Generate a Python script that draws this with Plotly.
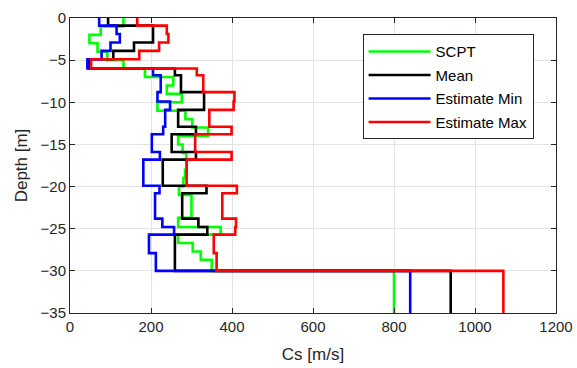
import plotly.graph_objects as go

# ---- data ----
# SCPT layer boundaries (depth, m) and shear-wave velocities (m/s)
scpt_depths = [0, 1, 2, 3, 4, 5, 6, 7, 8, 9, 10, 11, 12, 13, 14, 15, 16, 17, 18, 19,
               20, 21, 23.7, 24.8, 25.7, 26.7, 27.7, 28.7, 30, 35]
scpt_vs = [132, 76, 48, 68, 92, 132, 185, 255, 239, 276, 216, 285, 302, 341, 267,
           278, 287, 288, 284, 280, 269, 300, 267, 372, 267, 303, 323, 350, 800]

# Estimated profiles layer boundaries
est_depths = [0, 0.9, 1.9, 2.9, 3.9, 4.9, 6.0, 6.8, 8.8, 9.9, 10.9, 12.9, 13.8, 15.9,
              16.8, 19.9, 20.8, 23.8, 24.8, 25.7, 27.9, 30.0, 35.0]
mean_vs = [94, 205, 205, 158, 107, 48, 259, 274, 331, 331, 267, 311, 251, 311,
           229, 337, 277, 317, 339, 259, 259, 940]
min_vs = [72, 115, 123, 100, 78, 43, 205, 224, 216, 247, 235, 230, 202, 222,
          181, 221, 210, 228, 257, 195, 212, 840]
max_vs = [166, 239, 243, 220, 171, 52, 313, 329, 406, 404, 344, 399, 309, 399,
          288, 412, 376, 410, 408, 355, 362, 1070]

series_names = ["SCPT", "Mean", "Estimate Min", "Estimate Max"]
series_colors = ["#00ff00", "#000000", "#0000ff", "#ff0000"]

x_ticks = [0, 200, 400, 600, 800, 1000, 1200]
y_ticks = [0, -5, -10, -15, -20, -25, -30, -35]


def step_points(depths, vs):
    xs = list(vs) + [vs[-1]]
    ys = [-d for d in depths]
    return xs, ys


fig = go.Figure()
profiles = [(scpt_depths, scpt_vs), (est_depths, mean_vs),
            (est_depths, min_vs), (est_depths, max_vs)]
for i, ((deps, vs), name, col) in enumerate(zip(profiles, series_names, series_colors)):
    xs, ys = step_points(deps, vs)
    fig.add_trace(go.Scatter(x=xs, y=ys, mode="lines", name=name,
                             line=dict(color=col, width=2.6, shape="vh"),
                             legendgroup=f"g{i}"))

axis_common = dict(showgrid=True, gridcolor="#e3e3e3", gridwidth=1,
                   showline=True, linecolor="#262626", linewidth=1,
                   mirror="ticks", ticks="inside", ticklen=5,
                   tickcolor="#262626", zeroline=False, automargin=False,
                   tickfont=dict(size=15, color="#262626"))

fig.update_layout(
    width=577, height=368,
    margin=dict(l=70, r=21, t=18, b=55),
    plot_bgcolor="white", paper_bgcolor="white",
    font=dict(family="Liberation Sans, Arial, sans-serif", size=15, color="#262626"),
    xaxis=dict(range=[0, 1200], tickvals=x_ticks,
               title=dict(text="Cs [m/s]", font=dict(size=17), standoff=14),
               **axis_common),
    yaxis=dict(range=[-35, 0], tickvals=y_ticks,
               title=dict(text="Depth [m]", font=dict(size=17), standoff=8),
               **axis_common),
    legend=dict(x=0.602, y=0.945, xanchor="left", yanchor="top",
                bgcolor="white", bordercolor="#262626", borderwidth=1,
                font=dict(size=15, color="#000000"),
                traceorder="grouped", tracegroupgap=1, itemwidth=62),
    showlegend=True,
)

fig.write_html("out.html")
